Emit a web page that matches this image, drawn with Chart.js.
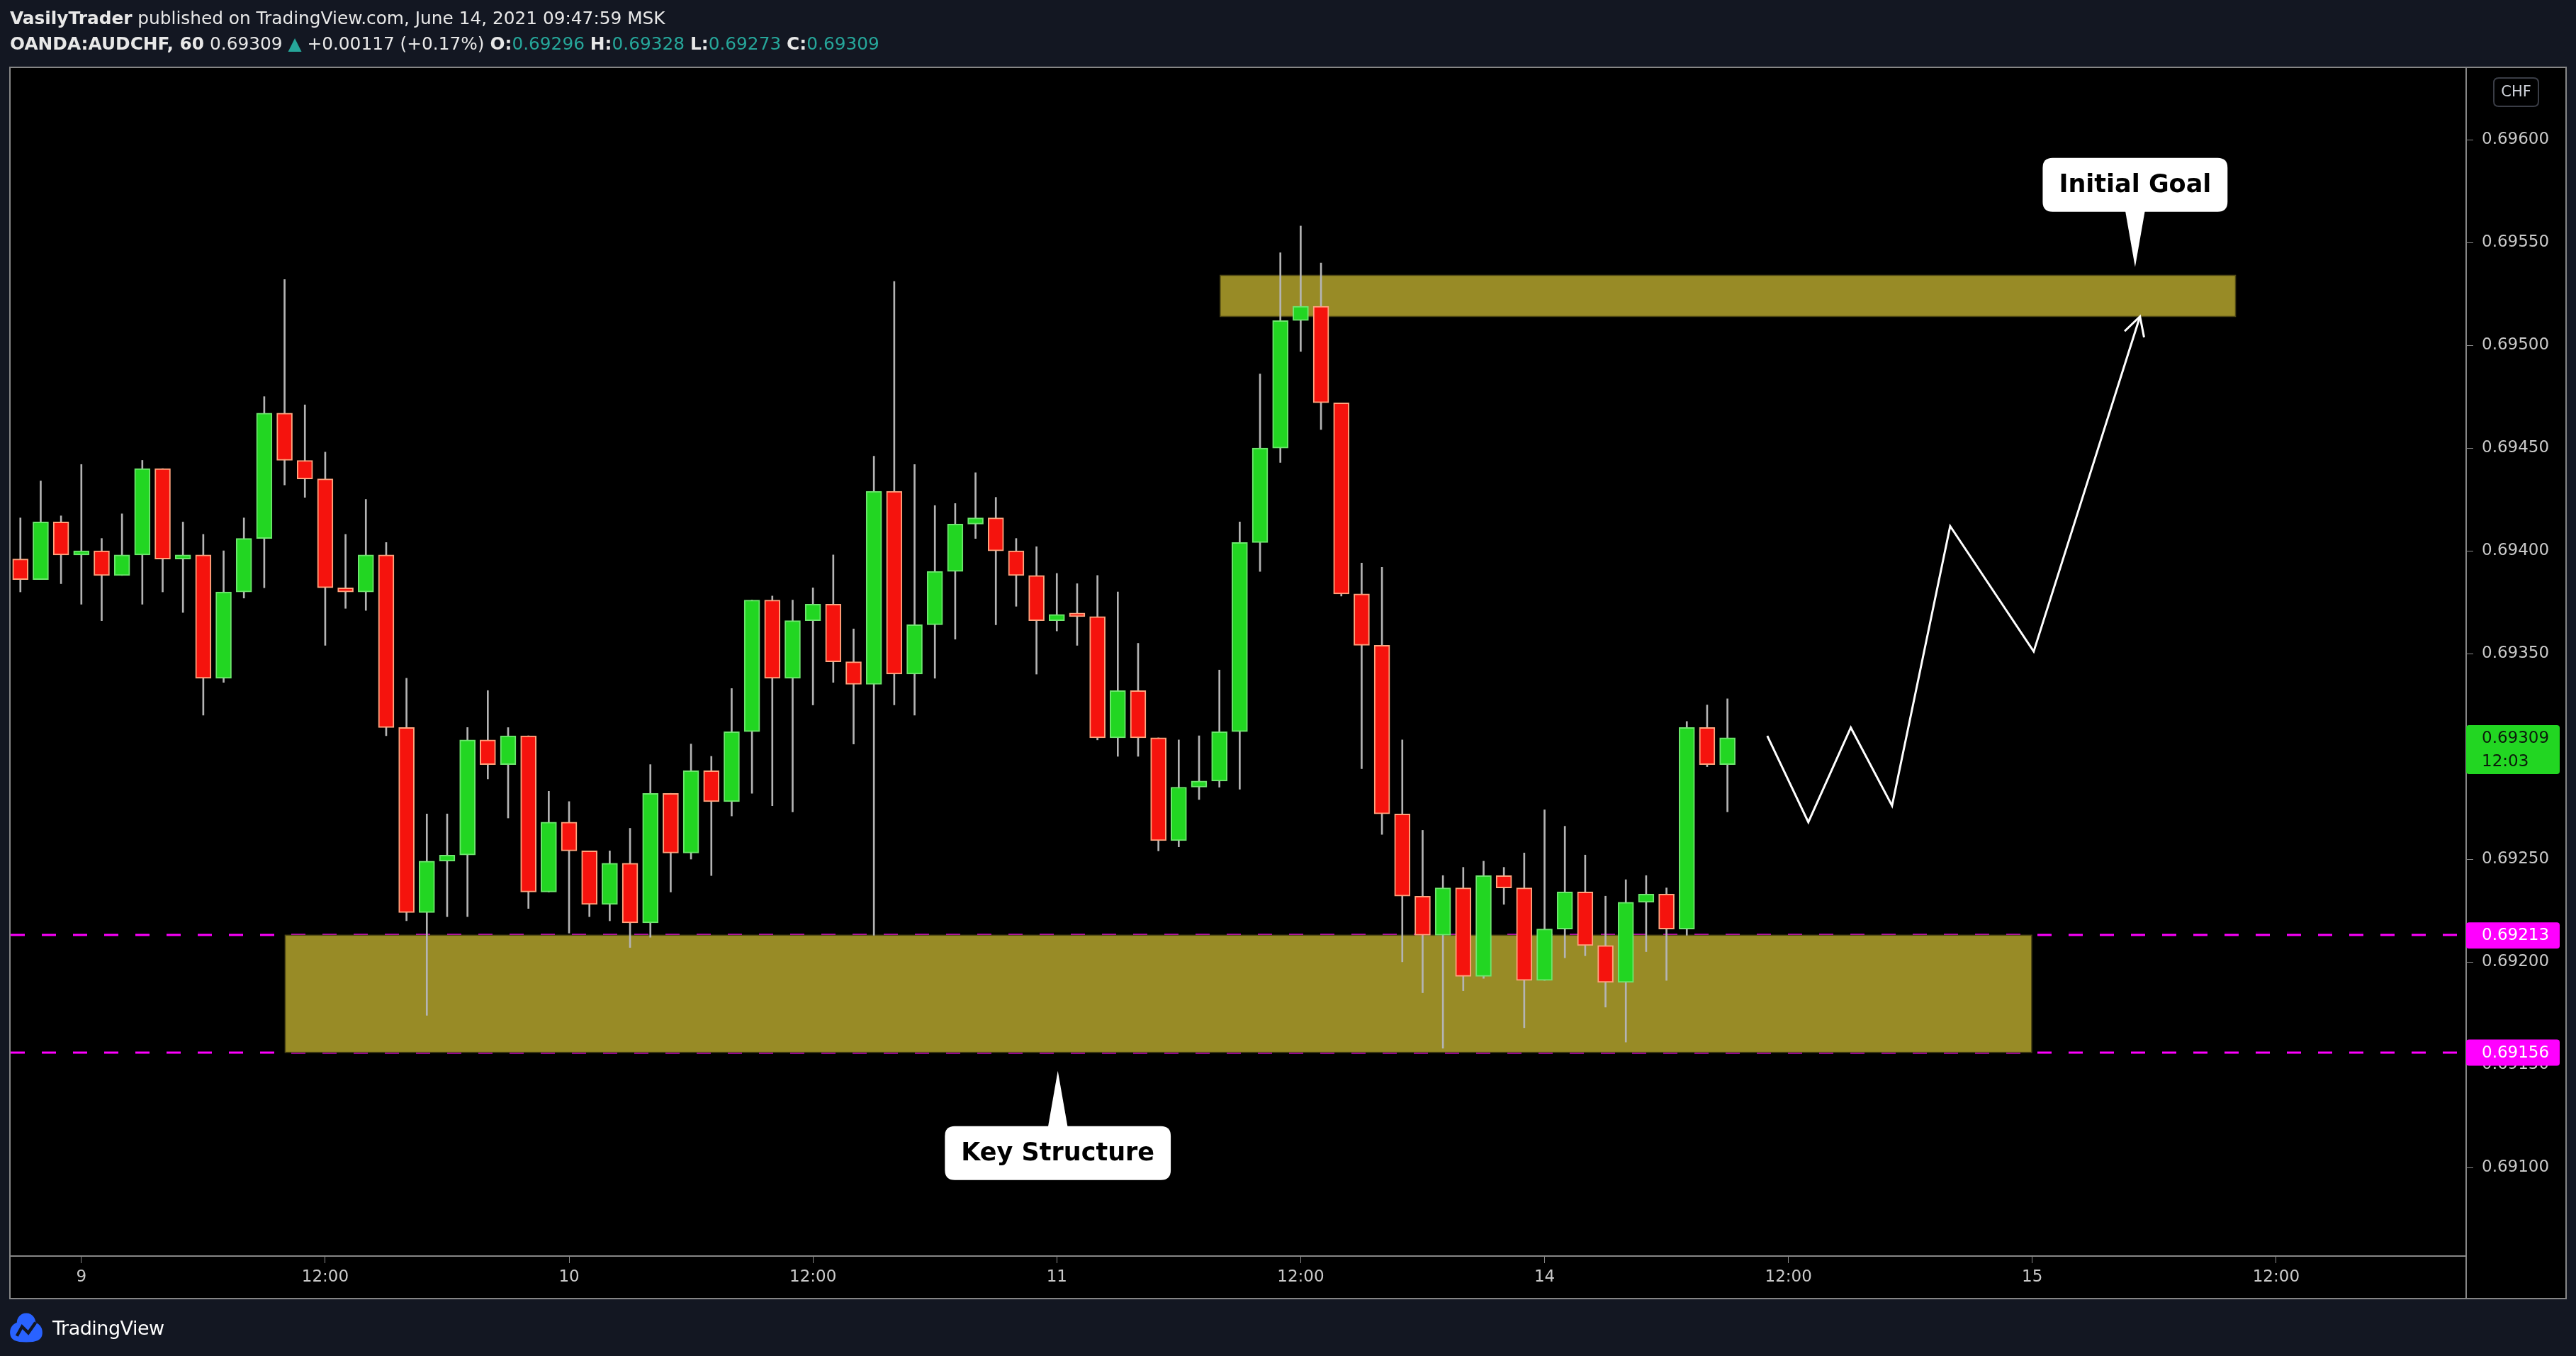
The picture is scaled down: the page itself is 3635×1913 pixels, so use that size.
<!DOCTYPE html>
<html>
<head>
<meta charset="utf-8">
<script src="https://cdn.jsdelivr.net/npm/chart.js@4.4.1/dist/chart.umd.min.js"></script>
<style>
  html, body { margin: 0; padding: 0; background: #131722; }
  #wrap { position: relative; width: 3635px; height: 1913px; }
  #chart { position: absolute; left: 0; top: 0; }
  .hdr { position: absolute; left: 14px; font-family: 'DejaVu Sans'; font-size: 24.8px; color: #e8e8e8; white-space: nowrap; }
  .teal { color: #26a69a; }
  #foot { position: absolute; left: 12px; top: 1851px; height: 44px; display: flex; align-items: center; }
  #foot span { font-family: 'DejaVu Sans'; font-size: 27px; color: #ffffff; margin-left: 12px; letter-spacing: -0.5px; }
</style>
</head>
<body>
<div id="wrap">
  <canvas id="chart" width="3635" height="1913"></canvas>
  <div class="hdr" style="top:11px"><b>VasilyTrader</b> published on TradingView.com, June 14, 2021 09:47:59 MSK</div>
  <div class="hdr" style="top:47px"><b>OANDA:AUDCHF, 60</b> 0.69309 <span class="teal">▲</span> +0.00117 (+0.17%) <b>O:</b><span class="teal">0.69296</span> <b>H:</b><span class="teal">0.69328</span> <b>L:</b><span class="teal">0.69273</span> <b>C:</b><span class="teal">0.69309</span></div>
  <div id="foot">
    <svg width="50" height="44" viewBox="0 0 34 30">
      <path d="M17 1 C11 1 8 6 8 10 C3 12 1 16 1.5 21 C2 27 7 29 17 29 C27 29 32 27 32.5 21 C33 16 31 12 26 10 C26 6 23 1 17 1 Z" fill="#2962ff"/>
      <path d="M8 23 L13 14 L19 20 L26 10" stroke="#131722" stroke-width="3" fill="none"/>
    </svg>
    <span>TradingView</span>
  </div>
</div>
<script>
// AUDCHF 1h candles, 8 Jun 21:00 .. 14 Jun 09:00 (MSK)
const opens = [
  0.69396, 0.69386, 0.69414, 0.69398, 0.69400, 0.69388, 0.69398, 0.69440, 0.69396, 0.69398,
  0.69338, 0.69380, 0.69406, 0.69467, 0.69444, 0.69435, 0.69382, 0.69380, 0.69398, 0.69314,
  0.69224, 0.69249, 0.69252, 0.69308, 0.69296, 0.69310, 0.69234, 0.69268, 0.69254, 0.69228,
  0.69248, 0.69219, 0.69282, 0.69253, 0.69293, 0.69278, 0.69312, 0.69376, 0.69338, 0.69366,
  0.69374, 0.69346, 0.69335, 0.69429, 0.69340, 0.69364, 0.69390, 0.69413, 0.69416, 0.69400,
  0.69388, 0.69366, 0.69369, 0.69368, 0.69309, 0.69332, 0.69309, 0.69259, 0.69285, 0.69288,
  0.69312, 0.69404, 0.69450, 0.69512, 0.69519, 0.69472, 0.69379, 0.69354, 0.69272, 0.69232,
  0.69213, 0.69236, 0.69193, 0.69242, 0.69236, 0.69191, 0.69216, 0.69234, 0.69208, 0.69190,
  0.69229, 0.69233, 0.69216, 0.69314, 0.69296
];
const highs = [
  0.69416, 0.69434, 0.69417, 0.69442, 0.69406, 0.69418, 0.69444, 0.69440, 0.69414, 0.69408,
  0.69400, 0.69416, 0.69475, 0.69532, 0.69471, 0.69448, 0.69408, 0.69425, 0.69404, 0.69338,
  0.69272, 0.69272, 0.69314, 0.69332, 0.69314, 0.69310, 0.69283, 0.69278, 0.69254, 0.69254,
  0.69265, 0.69296, 0.69282, 0.69306, 0.69300, 0.69333, 0.69376, 0.69378, 0.69376, 0.69382,
  0.69398, 0.69362, 0.69446, 0.69531, 0.69442, 0.69422, 0.69423, 0.69438, 0.69426, 0.69406,
  0.69402, 0.69389, 0.69384, 0.69388, 0.69380, 0.69355, 0.69309, 0.69308, 0.69310, 0.69342,
  0.69414, 0.69486, 0.69545, 0.69558, 0.69540, 0.69472, 0.69394, 0.69392, 0.69308, 0.69264,
  0.69242, 0.69246, 0.69249, 0.69246, 0.69253, 0.69274, 0.69266, 0.69252, 0.69232, 0.69240,
  0.69242, 0.69236, 0.69317, 0.69325, 0.69328
];
const lows = [
  0.69380, 0.69386, 0.69384, 0.69374, 0.69366, 0.69388, 0.69374, 0.69380, 0.69370, 0.69320,
  0.69336, 0.69377, 0.69382, 0.69432, 0.69426, 0.69354, 0.69372, 0.69371, 0.69310, 0.69220,
  0.69174, 0.69222, 0.69222, 0.69289, 0.69270, 0.69226, 0.69234, 0.69214, 0.69222, 0.69220,
  0.69207, 0.69212, 0.69234, 0.69250, 0.69242, 0.69271, 0.69282, 0.69276, 0.69273, 0.69325,
  0.69336, 0.69306, 0.69213, 0.69325, 0.69320, 0.69338, 0.69357, 0.69406, 0.69364, 0.69373,
  0.69340, 0.69361, 0.69354, 0.69308, 0.69300, 0.69300, 0.69254, 0.69256, 0.69279, 0.69285,
  0.69284, 0.69390, 0.69443, 0.69497, 0.69459, 0.69378, 0.69294, 0.69262, 0.69200, 0.69185,
  0.69158, 0.69186, 0.69192, 0.69228, 0.69168, 0.69191, 0.69202, 0.69203, 0.69178, 0.69161,
  0.69205, 0.69191, 0.69213, 0.69295, 0.69273
];
const closes = [
  0.69386, 0.69414, 0.69398, 0.69400, 0.69388, 0.69398, 0.69440, 0.69396, 0.69398, 0.69338,
  0.69380, 0.69406, 0.69467, 0.69444, 0.69435, 0.69382, 0.69380, 0.69398, 0.69314, 0.69224,
  0.69249, 0.69252, 0.69308, 0.69296, 0.69310, 0.69234, 0.69268, 0.69254, 0.69228, 0.69248,
  0.69219, 0.69282, 0.69253, 0.69293, 0.69278, 0.69312, 0.69376, 0.69338, 0.69366, 0.69374,
  0.69346, 0.69335, 0.69429, 0.69340, 0.69364, 0.69390, 0.69413, 0.69416, 0.69400, 0.69388,
  0.69366, 0.69369, 0.69368, 0.69309, 0.69332, 0.69309, 0.69259, 0.69285, 0.69288, 0.69312,
  0.69404, 0.69450, 0.69512, 0.69519, 0.69472, 0.69379, 0.69354, 0.69272, 0.69232, 0.69213,
  0.69236, 0.69193, 0.69242, 0.69236, 0.69191, 0.69216, 0.69234, 0.69208, 0.69190, 0.69229,
  0.69233, 0.69216, 0.69314, 0.69296, 0.69309
];

// time axis: bar index of each label
const timeTickIdx = [3, 15, 27, 39, 51, 63, 75, 87, 99, 111];
const timeTickLabels = ['9', '12:00', '10', '12:00', '11', '12:00', '14', '12:00', '15', '12:00'];
const priceTicks = [0.6910, 0.6915, 0.6920, 0.6925, 0.6930, 0.6935, 0.6940, 0.6945, 0.6950, 0.6955, 0.6960];

// drawn projection path (bar index, price)
const projX = [85.96, 87.98, 90.07, 92.1, 94.96, 99.07, 104.3];
const projY = [0.69310, 0.69268, 0.69314, 0.69276, 0.69412, 0.69351, 0.69514];

// horizontal levels and zones [fromIdx, toIdx, low, high]
const levels = [0.69213, 0.69156];
const keyZone = [13.03, 98.97, 0.69156, 0.69213];
const goalZone = [59.04, 109.0, 0.69514, 0.69534];

// callout tips (bar index, price)
const keyTip = [51.05, 0.69147];
const goalTip = [104.06, 0.69538];

const GREEN = '#22d622';
const RED = '#f5130d';
const AXIS_FONT = { family: 'DejaVu Sans', size: 23 };

function roundRect(ctx, x, y, w, h, r) {
  ctx.beginPath();
  ctx.moveTo(x + r, y);
  ctx.lineTo(x + w - r, y);
  ctx.quadraticCurveTo(x + w, y, x + w, y + r);
  ctx.lineTo(x + w, y + h - r);
  ctx.quadraticCurveTo(x + w, y + h, x + w - r, y + h);
  ctx.lineTo(x + r, y + h);
  ctx.quadraticCurveTo(x, y + h, x, y + h - r);
  ctx.lineTo(x, y + r);
  ctx.quadraticCurveTo(x, y, x + r, y);
  ctx.closePath();
}

function callout(ctx, text, tx, ty, below) {
  ctx.font = 'bold 35px "DejaVu Sans"';
  const w = ctx.measureText(text).width + 46;
  const h = 76;
  const gap = 78;
  const bx = tx - w / 2;
  const by = below ? ty + gap : ty - gap - h;
  ctx.fillStyle = '#ffffff';
  roundRect(ctx, bx, by, w, h, 14);
  ctx.fill();
  ctx.beginPath();
  const baseY = below ? by + 2 : by + h - 2;
  ctx.moveTo(tx - 14, baseY);
  ctx.lineTo(tx + 14, baseY);
  ctx.lineTo(tx, ty);
  ctx.closePath();
  ctx.fill();
  ctx.fillStyle = '#000000';
  ctx.textAlign = 'center';
  ctx.textBaseline = 'middle';
  ctx.fillText(text, tx, by + h / 2 + 1);
}

const overlay = {
  id: 'overlay',
  beforeDraw(chart) {
    const { ctx, width, height } = chart;
    ctx.save();
    ctx.fillStyle = '#131722';
    ctx.fillRect(0, 0, width, height);
    ctx.fillStyle = '#000000';
    ctx.fillRect(14, 95, 3607, 1737);
    ctx.restore();
  },
  beforeDatasetsDraw(chart) {
    const { ctx, chartArea: a, scales: { x, y } } = chart;
    ctx.save();
    ctx.beginPath();
    ctx.rect(a.left, a.top, a.right - a.left, a.bottom - a.top);
    ctx.clip();
    ctx.strokeStyle = '#ff00ff';
    ctx.lineWidth = 3;
    ctx.setLineDash([20, 24]);
    levels.forEach((v) => {
      const py = Math.round(y.getPixelForValue(v));
      ctx.beginPath();
      ctx.moveTo(a.left, py);
      ctx.lineTo(a.right, py);
      ctx.stroke();
    });
    ctx.setLineDash([]);
    [keyZone, goalZone].forEach((z) => {
      const x0 = x.getPixelForValue(z[0]);
      const x1 = x.getPixelForValue(z[1]);
      const y0 = y.getPixelForValue(z[3]);
      const y1 = y.getPixelForValue(z[2]);
      ctx.fillStyle = '#988b26';
      ctx.fillRect(x0, y0, x1 - x0, y1 - y0);
      ctx.strokeStyle = '#4d4614';
      ctx.lineWidth = 1.5;
      ctx.strokeRect(x0, y0, x1 - x0, y1 - y0);
    });
    ctx.restore();
  },
  afterDatasetsDraw(chart) {
    const { ctx, scales: { x, y } } = chart;
    ctx.save();
    // arrow head at the end of the projection path
    const pts = chart.getDatasetMeta(2).data;
    const p1 = pts[pts.length - 1];
    const p0 = pts[pts.length - 2];
    const ang = Math.atan2(p1.y - p0.y, p1.x - p0.x);
    const len = 30;
    ctx.strokeStyle = '#ffffff';
    ctx.lineWidth = 3;
    ctx.beginPath();
    ctx.moveTo(p1.x - len * Math.cos(ang - 0.5), p1.y - len * Math.sin(ang - 0.5));
    ctx.lineTo(p1.x, p1.y);
    ctx.lineTo(p1.x - len * Math.cos(ang + 0.5), p1.y - len * Math.sin(ang + 0.5));
    ctx.stroke();
    callout(ctx, 'Initial Goal', x.getPixelForValue(goalTip[0]), y.getPixelForValue(goalTip[1]), false);
    callout(ctx, 'Key Structure', x.getPixelForValue(keyTip[0]), y.getPixelForValue(keyTip[1]), true);
    ctx.restore();
  },
  afterDraw(chart) {
    const { ctx, chartArea: a, scales: { y } } = chart;
    ctx.save();
    // pane frame
    ctx.strokeStyle = '#868686';
    ctx.lineWidth = 2;
    ctx.strokeRect(14, 95, 3607, 1737);
    ctx.beginPath();
    ctx.moveTo(a.right, a.bottom);
    ctx.lineTo(a.right, 1832);
    ctx.stroke();
    // currency box
    ctx.strokeStyle = '#3a3d46';
    ctx.lineWidth = 2;
    roundRect(ctx, 3519, 110, 63, 40, 7);
    ctx.stroke();
    ctx.fillStyle = '#d1d4dc';
    ctx.font = '21px "DejaVu Sans"';
    ctx.textAlign = 'center';
    ctx.textBaseline = 'middle';
    ctx.fillText('CHF', 3550.5, 131);
    // price labels
    ctx.textAlign = 'left';
    ctx.font = '23px "DejaVu Sans"';
    levels.forEach((v) => {
      const py = y.getPixelForValue(v);
      ctx.fillStyle = '#ff00ff';
      roundRect(ctx, a.right, py - 18, 132, 37, 4);
      ctx.fill();
      ctx.fillStyle = '#ffffff';
      ctx.fillText(v.toFixed(5), a.right + 22, py + 1);
    });
    const last = closes[closes.length - 1];
    const ly = y.getPixelForValue(last);
    ctx.fillStyle = GREEN;
    roundRect(ctx, a.right, ly - 18, 132, 69, 4);
    ctx.fill();
    ctx.fillStyle = '#0b1a0b';
    ctx.fillText(last.toFixed(5), a.right + 22, ly + 1);
    ctx.fillText('12:03', a.right + 22, ly + 34);
    ctx.restore();
  },
};

new Chart(document.getElementById('chart'), {
  type: 'bar',
  data: {
    datasets: [
      {
        label: 'body',
        data: opens.map((o, i) => ({ x: i, y: [o, closes[i]] })),
        backgroundColor: (c) => (closes[c.dataIndex] >= opens[c.dataIndex] ? GREEN : RED),
        borderColor: (c) => (closes[c.dataIndex] >= opens[c.dataIndex] ? '#6ee66e' : '#ffa47e'),
        borderWidth: 2,
        borderSkipped: false,
        barThickness: 22,
        minBarLength: 5,
        grouped: false,
        order: 1,
      },
      {
        label: 'wick',
        data: lows.map((l, i) => ({ x: i, y: [l, highs[i]] })),
        backgroundColor: '#b4b4b4',
        borderWidth: 0,
        barThickness: 2,
        grouped: false,
        order: 2,
      },
      {
        type: 'line',
        label: 'projection',
        data: projX.map((v, i) => ({ x: v, y: projY[i] })),
        borderColor: '#ffffff',
        borderWidth: 3,
        pointRadius: 0,
        tension: 0,
        fill: false,
        order: 0,
      },
    ],
  },
  options: {
    responsive: false,
    animation: false,
    devicePixelRatio: 1,
    layout: { padding: { left: 15, top: 95, right: 14, bottom: 81 } },
    plugins: { legend: { display: false }, tooltip: { enabled: false } },
    scales: {
      x: {
        type: 'linear',
        min: -0.48,
        max: 120.35,
        offset: false,
        afterBuildTicks: (s) => { s.ticks = timeTickIdx.map((v) => ({ value: v })); },
        afterFit: (s) => { s.height = 60; },
        grid: { offset: false, drawOnChartArea: false, tickLength: 10, color: '#8a8a8a', lineWidth: 1 },
        border: { display: true, color: '#868686', width: 2 },
        ticks: {
          autoSkip: false,
          maxRotation: 0,
          padding: 6,
          color: '#c9c9c9',
          font: AXIS_FONT,
          callback: (v) => timeTickLabels[timeTickIdx.indexOf(v)],
        },
      },
      y: {
        type: 'linear',
        position: 'right',
        min: 0.690569,
        max: 0.696352,
        afterBuildTicks: (s) => { s.ticks = priceTicks.map((v) => ({ value: v })); },
        afterFit: (s) => { s.width = 141; },
        grid: { offset: false, drawOnChartArea: false, tickLength: 10, color: '#8a8a8a', lineWidth: 1 },
        border: { display: true, color: '#868686', width: 2 },
        ticks: {
          padding: 12,
          color: '#c9c9c9',
          font: AXIS_FONT,
          callback: (v) => v.toFixed(5),
        },
      },
    },
  },
  plugins: [overlay],
});
</script>
</body>
</html>
